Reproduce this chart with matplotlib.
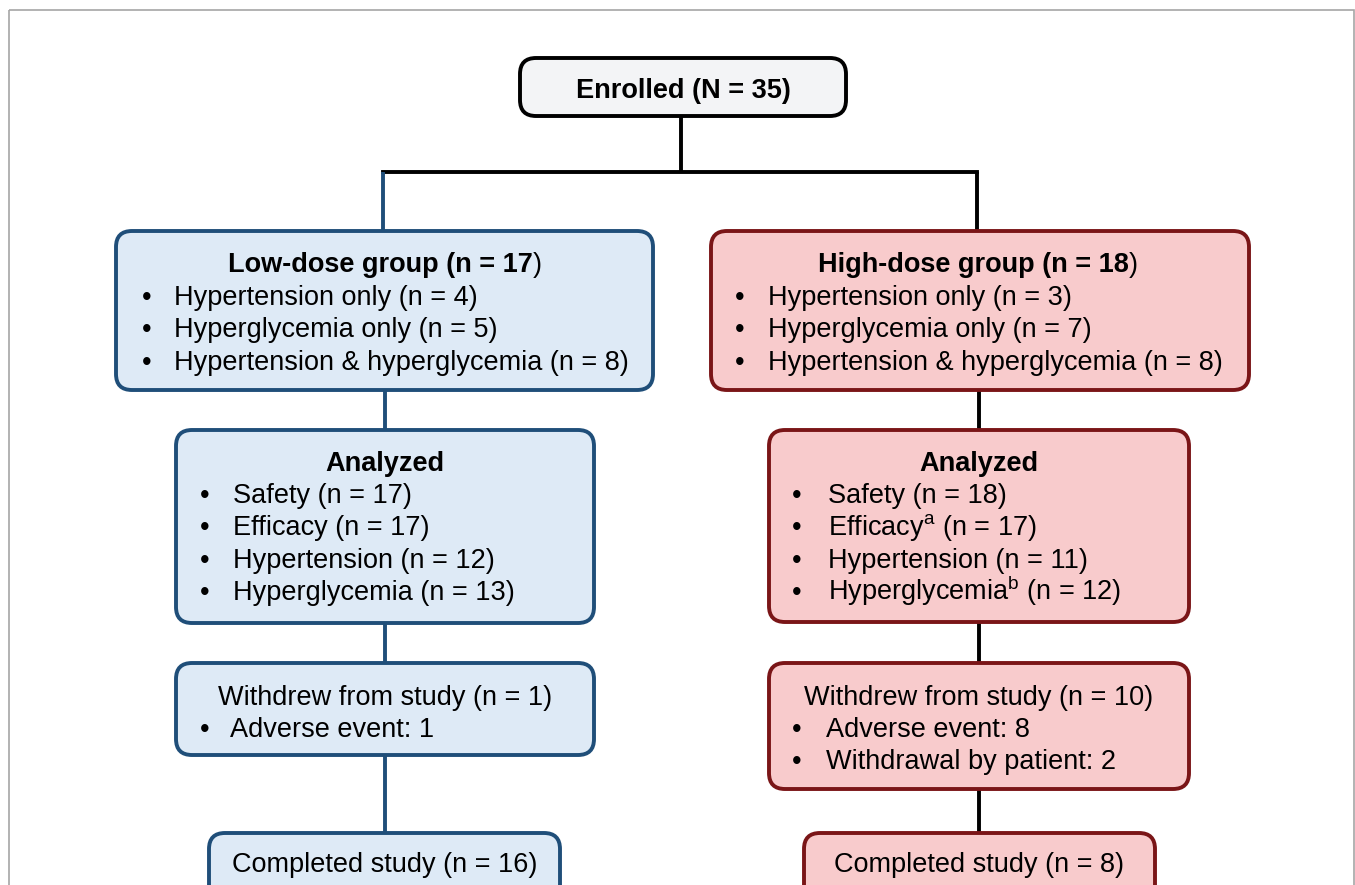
"""
Study flow diagram (CONSORT style) - low-dose vs high-dose groups
"""

import matplotlib
matplotlib.use('Agg')
import matplotlib.pyplot as plt
from matplotlib.patches import FancyBboxPatch, Rectangle

plt.rcParams['font.family'] = ['Liberation Sans', 'DejaVu Sans']
plt.rcParams['mathtext.fontset'] = 'custom'
plt.rcParams['mathtext.rm'] = 'Liberation Sans'

# ========== data ==========
enrolled_n = 35
group_names = ["Low-dose group", "High-dose group"]
group_n = [17, 18]

subgroup_labels = ["Hypertension only", "Hyperglycemia only", "Hypertension & hyperglycemia"]
low_subgroup_n = [4, 5, 8]
high_subgroup_n = [3, 7, 8]

analyzed_labels = ["Safety", "Efficacy", "Hypertension", "Hyperglycemia"]
low_analyzed_n = [17, 17, 12, 13]
high_analyzed_n = [18, 17, 11, 12]
high_footnotes = ["", "a", "", "b"]

withdrew_n = [1, 10]
low_reasons = ["Adverse event"]
low_reason_n = [1]
high_reasons = ["Adverse event", "Withdrawal by patient"]
high_reason_n = [8, 2]

completed_n = [16, 8]

# ========== styles ==========
BLUE_EDGE = '#1f4e79'
BLUE_FILL = '#deeaf6'
RED_EDGE = '#7a1517'
RED_FILL = '#f8cbcc'
GREY_FILL = '#f3f4f6'
FS = 19.5
LW = 2.8
LINE_H = 32.3


def box(ax, x0, y0, x1, y1, edge, fill):
    p = FancyBboxPatch((x0, y0), x1 - x0, y1 - y0,
                       boxstyle="round,pad=0,rounding_size=16",
                       linewidth=LW, edgecolor=edge, facecolor=fill, zorder=3)
    ax.add_patch(p)


def vline(ax, x, y0, y1, color):
    ax.plot([x, x], [y0, y1], color=color, lw=LW, zorder=1, solid_capstyle='butt')


def label(ax, x, y, s, ha='center', bold=False):
    # y is the text baseline (pixels from the top)
    return ax.text(x, y, s, fontsize=FS, ha=ha, va='baseline',
                   fontweight='bold' if bold else 'normal', zorder=4)


def bullets(ax, items, x_dot, x_text, y_first):
    for i, s in enumerate(items):
        y = y_first + i * LINE_H
        label(ax, x_dot, y, "•")
        label(ax, x_text, y, s, ha='left')


def bold_title(ax, x, y, txt):
    # bold body with a regular closing bracket, as in the original
    t = label(ax, x, y, txt, ha='left', bold=True)
    ax.annotate(")", xy=(1, 0), xycoords=t, ha='left', va='bottom', fontsize=FS, zorder=4)


fig = plt.figure(figsize=(13.55, 8.85), dpi=100)
ax = fig.add_axes([0, 0, 1, 1])
ax.set_xlim(0, 1355)
ax.set_ylim(885, 0)
ax.axis('off')

# outer frame (bottom edge cut off)
ax.add_patch(Rectangle((9, 10), 1345, 900, fill=False, edgecolor='#a6a6a6', lw=1.2, zorder=0))

# ----- enrolled -----
box(ax, 520, 58, 846, 116, 'black', GREY_FILL)
label(ax, 683, 98, f"Enrolled (N = {enrolled_n})", bold=True)

# connectors at the top
vline(ax, 681, 116, 172, 'black')
ax.plot([383, 977], [172, 172], color='black', lw=LW, zorder=1, solid_capstyle='projecting')
vline(ax, 383, 172, 231, BLUE_EDGE)
vline(ax, 977, 172, 231, 'black')

# ----- low-dose column -----
vline(ax, 385, 390, 430, BLUE_EDGE)
vline(ax, 385, 623, 663, BLUE_EDGE)
vline(ax, 385, 755, 833, BLUE_EDGE)

box(ax, 116, 231, 653, 390, BLUE_EDGE, BLUE_FILL)
bold_title(ax, 228, 272, f"{group_names[0]} (n = {group_n[0]}")
bullets(ax, [f"{s} (n = {n})" for s, n in zip(subgroup_labels, low_subgroup_n)], 147, 174, 305)

box(ax, 176, 430, 594, 623, BLUE_EDGE, BLUE_FILL)
label(ax, 385, 471, "Analyzed", bold=True)
bullets(ax, [f"{s} (n = {n})" for s, n in zip(analyzed_labels, low_analyzed_n)], 205, 233, 503)

box(ax, 176, 663, 594, 755, BLUE_EDGE, BLUE_FILL)
label(ax, 385, 705, f"Withdrew from study (n = {withdrew_n[0]})")
bullets(ax, [f"{s}: {n}" for s, n in zip(low_reasons, low_reason_n)], 205, 230, 737)

box(ax, 209, 833, 560, 920, BLUE_EDGE, BLUE_FILL)
label(ax, 385, 872, f"Completed study (n = {completed_n[0]})")

# ----- high-dose column -----
vline(ax, 979, 390, 430, 'black')
vline(ax, 979, 622, 663, 'black')
vline(ax, 979, 789, 833, 'black')

box(ax, 711, 231, 1249, 390, RED_EDGE, RED_FILL)
bold_title(ax, 818, 272, f"{group_names[1]} (n = {group_n[1]}")
bullets(ax, [f"{s} (n = {n})" for s, n in zip(subgroup_labels, high_subgroup_n)], 740, 768, 305)

box(ax, 769, 430, 1189, 622, RED_EDGE, RED_FILL)
label(ax, 979, 471, "Analyzed", bold=True)
items = []
for s, fn, n in zip(analyzed_labels, high_footnotes, high_analyzed_n):
    sup = rf"$^{{\mathrm{{{fn}}}}}$" if fn else ""
    items.append(f"{s}{sup} (n = {n})")
bullets(ax, items, 797, 828, 503)

box(ax, 769, 663, 1189, 789, RED_EDGE, RED_FILL)
label(ax, 979, 705, f"Withdrew from study (n = {withdrew_n[1]})")
bullets(ax, [f"{s}: {n}" for s, n in zip(high_reasons, high_reason_n)], 797, 826, 737)

box(ax, 804, 833, 1155, 920, RED_EDGE, RED_FILL)
label(ax, 979, 872, f"Completed study (n = {completed_n[1]})")

plt.savefig('out.png', dpi=100, facecolor='white')
plt.close()
print("Saved: out.png")
